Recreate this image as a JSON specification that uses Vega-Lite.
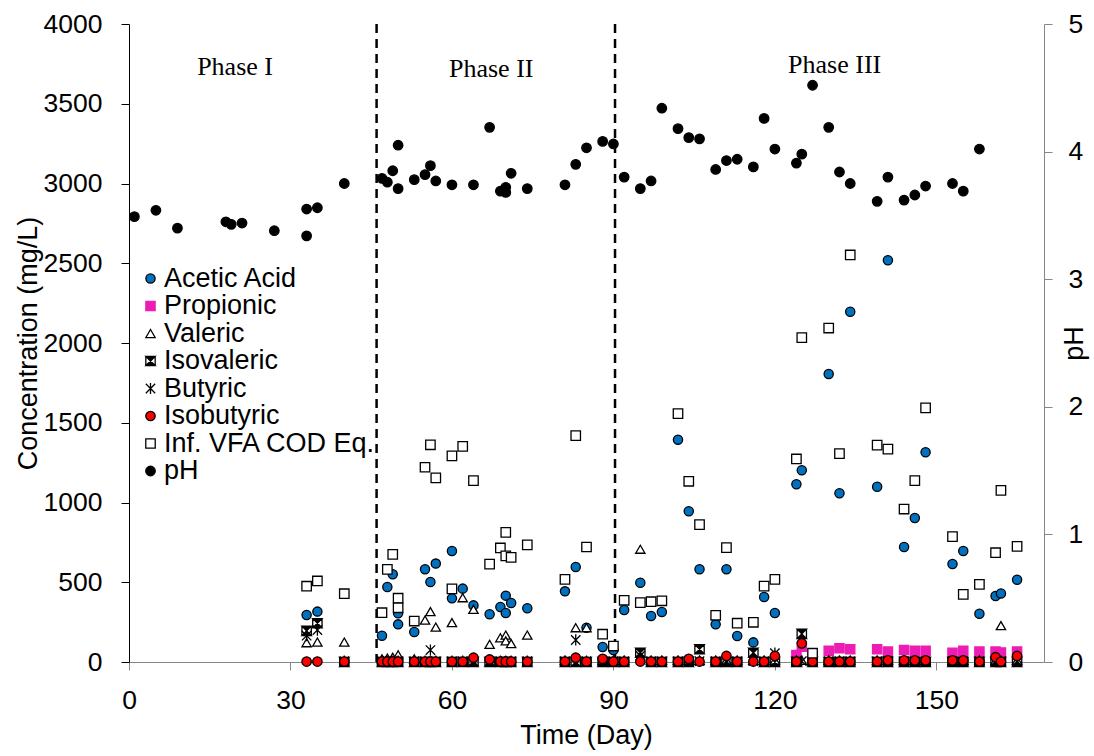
{
"$schema":"https://vega.github.io/schema/vega-lite/v6.json",
"width":915,"height":638,
"autosize":{"type":"none"},
"padding":{"left":129,"top":24,"right":50,"bottom":94},
"background":"white",
"config":{"view":{"stroke":null},"font":"Liberation Sans",
 "axis":{"grid":false,"labelFont":"Liberation Sans","titleFont":"Liberation Sans","labelFontSize":26.5,"titleFontSize":27,"titleFontWeight":"normal","labelColor":"#000","titleColor":"#000","tickSize":8,"labelFlush":false,"labelOverlap":false,"format":"d"},
 "legend":{"orient":"none","legendX":8,"legendY":241,"labelFontSize":27,"labelFont":"Liberation Sans","labelColor":"#000","rowPadding":-0.5,"labelOffset":0,"padding":0,"symbolStrokeWidth":1.3,"labelLimit":0}},
"datasets":{
"div":[{"day":46},{"day":90.3}],
"phase":[{"day":19.7,"value":3730,"label":"Phase I"},{"day":67.3,"value":3718,"label":"Phase II"},{"day":131.1,"value":3743,"label":"Phase III"}],
"ph":[
{"day":1,"series":"pH","value":3.49},{"day":5,"series":"pH","value":3.54},{"day":9,"series":"pH","value":3.40},{"day":18,"series":"pH","value":3.45},{"day":19,"series":"pH","value":3.43},{"day":21,"series":"pH","value":3.44},{"day":27,"series":"pH","value":3.38},{"day":33,"series":"pH","value":3.55},{"day":33,"series":"pH","value":3.34},{"day":35,"series":"pH","value":3.56},{"day":40,"series":"pH","value":3.75},
{"day":47,"series":"pH","value":3.79},{"day":48,"series":"pH","value":3.76},{"day":49,"series":"pH","value":3.85},{"day":50,"series":"pH","value":4.05},{"day":50,"series":"pH","value":3.71},{"day":53,"series":"pH","value":3.78},{"day":55,"series":"pH","value":3.82},{"day":56,"series":"pH","value":3.89},{"day":57,"series":"pH","value":3.77},{"day":60,"series":"pH","value":3.74},{"day":64,"series":"pH","value":3.74},{"day":67,"series":"pH","value":4.19},{"day":69,"series":"pH","value":3.69},{"day":70,"series":"pH","value":3.72},{"day":70,"series":"pH","value":3.68},{"day":71,"series":"pH","value":3.83},{"day":74,"series":"pH","value":3.71},{"day":81,"series":"pH","value":3.74},{"day":83,"series":"pH","value":3.90},{"day":85,"series":"pH","value":4.03},{"day":88,"series":"pH","value":4.08},{"day":90,"series":"pH","value":4.06},
{"day":92,"series":"pH","value":3.80},{"day":95,"series":"pH","value":3.71},{"day":97,"series":"pH","value":3.77},{"day":99,"series":"pH","value":4.34},{"day":102,"series":"pH","value":4.18},{"day":104,"series":"pH","value":4.11},{"day":106,"series":"pH","value":4.10},{"day":109,"series":"pH","value":3.86},{"day":111,"series":"pH","value":3.93},{"day":113,"series":"pH","value":3.94},{"day":116,"series":"pH","value":3.88},{"day":118,"series":"pH","value":4.26},{"day":120,"series":"pH","value":4.02},{"day":124,"series":"pH","value":3.91},{"day":125,"series":"pH","value":3.98},{"day":127,"series":"pH","value":4.52},{"day":130,"series":"pH","value":4.19},{"day":132,"series":"pH","value":3.84},{"day":134,"series":"pH","value":3.75},{"day":139,"series":"pH","value":3.61},{"day":141,"series":"pH","value":3.80},{"day":144,"series":"pH","value":3.62},{"day":146,"series":"pH","value":3.66},{"day":148,"series":"pH","value":3.73},{"day":153,"series":"pH","value":3.75},{"day":155,"series":"pH","value":3.69},{"day":158,"series":"pH","value":4.02}
],
"vfa":[
{"day":33,"series":"Acetic Acid","value":295},{"day":35,"series":"Acetic Acid","value":316},{"day":47,"series":"Acetic Acid","value":165},{"day":48,"series":"Acetic Acid","value":470},{"day":49,"series":"Acetic Acid","value":550},{"day":50,"series":"Acetic Acid","value":305},{"day":50,"series":"Acetic Acid","value":236},{"day":53,"series":"Acetic Acid","value":188},{"day":55,"series":"Acetic Acid","value":581},{"day":56,"series":"Acetic Acid","value":502},{"day":57,"series":"Acetic Acid","value":617},{"day":60,"series":"Acetic Acid","value":696},{"day":60,"series":"Acetic Acid","value":399},{"day":62,"series":"Acetic Acid","value":460},{"day":64,"series":"Acetic Acid","value":355},{"day":67,"series":"Acetic Acid","value":299},{"day":69,"series":"Acetic Acid","value":345},{"day":70,"series":"Acetic Acid","value":416},{"day":70,"series":"Acetic Acid","value":307},{"day":71,"series":"Acetic Acid","value":370},{"day":74,"series":"Acetic Acid","value":337},{"day":81,"series":"Acetic Acid","value":443},{"day":83,"series":"Acetic Acid","value":596},{"day":85,"series":"Acetic Acid","value":215},{"day":88,"series":"Acetic Acid","value":94},{"day":90,"series":"Acetic Acid","value":75},{"day":92,"series":"Acetic Acid","value":326},{"day":95,"series":"Acetic Acid","value":497},{"day":97,"series":"Acetic Acid","value":288},{"day":99,"series":"Acetic Acid","value":313},{"day":102,"series":"Acetic Acid","value":1394},{"day":104,"series":"Acetic Acid","value":945},{"day":106,"series":"Acetic Acid","value":581},{"day":109,"series":"Acetic Acid","value":236},{"day":111,"series":"Acetic Acid","value":581},{"day":113,"series":"Acetic Acid","value":163},{"day":116,"series":"Acetic Acid","value":123},{"day":118,"series":"Acetic Acid","value":408},{"day":120,"series":"Acetic Acid","value":307},{"day":124,"series":"Acetic Acid","value":1114},{"day":125,"series":"Acetic Acid","value":1202},{"day":130,"series":"Acetic Acid","value":1806},{"day":132,"series":"Acetic Acid","value":1058},{"day":134,"series":"Acetic Acid","value":2196},{"day":139,"series":"Acetic Acid","value":1099},{"day":141,"series":"Acetic Acid","value":2519},{"day":144,"series":"Acetic Acid","value":721},{"day":146,"series":"Acetic Acid","value":903},{"day":148,"series":"Acetic Acid","value":1315},{"day":153,"series":"Acetic Acid","value":614},{"day":155,"series":"Acetic Acid","value":696},{"day":158,"series":"Acetic Acid","value":303},{"day":161,"series":"Acetic Acid","value":414},{"day":162,"series":"Acetic Acid","value":430},{"day":165,"series":"Acetic Acid","value":516},
{"day":124,"series":"Propionic","value":44},{"day":125,"series":"Propionic","value":96},{"day":127,"series":"Propionic","value":30},{"day":130,"series":"Propionic","value":71},{"day":132,"series":"Propionic","value":86},{"day":134,"series":"Propionic","value":80},{"day":139,"series":"Propionic","value":80},{"day":141,"series":"Propionic","value":65},{"day":144,"series":"Propionic","value":75},{"day":146,"series":"Propionic","value":71},{"day":148,"series":"Propionic","value":71},{"day":153,"series":"Propionic","value":58},{"day":155,"series":"Propionic","value":71},{"day":158,"series":"Propionic","value":65},{"day":161,"series":"Propionic","value":65},{"day":162,"series":"Propionic","value":60},{"day":165,"series":"Propionic","value":65},
{"day":33,"series":"Valeric","value":121},{"day":35,"series":"Valeric","value":125},{"day":40,"series":"Valeric","value":125},{"day":47,"series":"Valeric","value":20},{"day":48,"series":"Valeric","value":25},{"day":49,"series":"Valeric","value":30},{"day":50,"series":"Valeric","value":45},{"day":53,"series":"Valeric","value":20},{"day":55,"series":"Valeric","value":263},{"day":56,"series":"Valeric","value":316},{"day":57,"series":"Valeric","value":219},{"day":60,"series":"Valeric","value":247},{"day":62,"series":"Valeric","value":403},{"day":64,"series":"Valeric","value":330},{"day":67,"series":"Valeric","value":111},{"day":69,"series":"Valeric","value":152},{"day":70,"series":"Valeric","value":169},{"day":70,"series":"Valeric","value":132},{"day":71,"series":"Valeric","value":115},{"day":74,"series":"Valeric","value":169},{"day":81,"series":"Valeric","value":10},{"day":83,"series":"Valeric","value":215},{"day":85,"series":"Valeric","value":215},{"day":88,"series":"Valeric","value":10},{"day":90,"series":"Valeric","value":10},{"day":92,"series":"Valeric","value":10},{"day":95,"series":"Valeric","value":707},{"day":97,"series":"Valeric","value":10},{"day":99,"series":"Valeric","value":10},{"day":102,"series":"Valeric","value":10},{"day":104,"series":"Valeric","value":10},{"day":106,"series":"Valeric","value":10},{"day":109,"series":"Valeric","value":10},{"day":111,"series":"Valeric","value":10},{"day":113,"series":"Valeric","value":10},{"day":116,"series":"Valeric","value":10},{"day":118,"series":"Valeric","value":10},{"day":120,"series":"Valeric","value":10},{"day":124,"series":"Valeric","value":10},{"day":125,"series":"Valeric","value":10},{"day":127,"series":"Valeric","value":10},{"day":130,"series":"Valeric","value":10},{"day":132,"series":"Valeric","value":10},{"day":134,"series":"Valeric","value":10},{"day":139,"series":"Valeric","value":10},{"day":141,"series":"Valeric","value":10},{"day":144,"series":"Valeric","value":10},{"day":146,"series":"Valeric","value":10},{"day":148,"series":"Valeric","value":10},{"day":153,"series":"Valeric","value":10},{"day":155,"series":"Valeric","value":10},{"day":158,"series":"Valeric","value":10},{"day":161,"series":"Valeric","value":10},{"day":162,"series":"Valeric","value":228},{"day":165,"series":"Valeric","value":10},
{"day":33,"series":"Isovaleric","value":195},{"day":35,"series":"Isovaleric","value":243},{"day":40,"series":"Isovaleric","value":0},{"day":47,"series":"Isovaleric","value":0},{"day":48,"series":"Isovaleric","value":0},{"day":49,"series":"Isovaleric","value":0},{"day":50,"series":"Isovaleric","value":0},{"day":53,"series":"Isovaleric","value":0},{"day":55,"series":"Isovaleric","value":0},{"day":56,"series":"Isovaleric","value":0},{"day":57,"series":"Isovaleric","value":0},{"day":60,"series":"Isovaleric","value":0},{"day":62,"series":"Isovaleric","value":0},{"day":64,"series":"Isovaleric","value":0},{"day":67,"series":"Isovaleric","value":0},{"day":69,"series":"Isovaleric","value":0},{"day":70,"series":"Isovaleric","value":0},{"day":71,"series":"Isovaleric","value":0},{"day":74,"series":"Isovaleric","value":0},{"day":81,"series":"Isovaleric","value":0},{"day":83,"series":"Isovaleric","value":0},{"day":85,"series":"Isovaleric","value":0},{"day":88,"series":"Isovaleric","value":0},{"day":90,"series":"Isovaleric","value":0},{"day":92,"series":"Isovaleric","value":0},{"day":95,"series":"Isovaleric","value":58},{"day":97,"series":"Isovaleric","value":0},{"day":99,"series":"Isovaleric","value":0},{"day":102,"series":"Isovaleric","value":0},{"day":104,"series":"Isovaleric","value":0},{"day":106,"series":"Isovaleric","value":80},{"day":109,"series":"Isovaleric","value":0},{"day":111,"series":"Isovaleric","value":0},{"day":113,"series":"Isovaleric","value":0},{"day":116,"series":"Isovaleric","value":58},{"day":118,"series":"Isovaleric","value":0},{"day":120,"series":"Isovaleric","value":0},{"day":124,"series":"Isovaleric","value":0},{"day":125,"series":"Isovaleric","value":176},{"day":127,"series":"Isovaleric","value":0},{"day":130,"series":"Isovaleric","value":0},{"day":132,"series":"Isovaleric","value":0},{"day":134,"series":"Isovaleric","value":0},{"day":139,"series":"Isovaleric","value":0},{"day":141,"series":"Isovaleric","value":0},{"day":144,"series":"Isovaleric","value":0},{"day":146,"series":"Isovaleric","value":0},{"day":148,"series":"Isovaleric","value":0},{"day":153,"series":"Isovaleric","value":0},{"day":155,"series":"Isovaleric","value":0},{"day":158,"series":"Isovaleric","value":0},{"day":161,"series":"Isovaleric","value":0},{"day":162,"series":"Isovaleric","value":0},{"day":165,"series":"Isovaleric","value":0},
{"day":33,"series":"Butyric","value":165},{"day":35,"series":"Butyric","value":200},{"day":40,"series":"Butyric","value":5},{"day":47,"series":"Butyric","value":5},{"day":48,"series":"Butyric","value":5},{"day":49,"series":"Butyric","value":5},{"day":50,"series":"Butyric","value":5},{"day":53,"series":"Butyric","value":5},{"day":55,"series":"Butyric","value":5},{"day":56,"series":"Butyric","value":75},{"day":57,"series":"Butyric","value":5},{"day":60,"series":"Butyric","value":5},{"day":62,"series":"Butyric","value":5},{"day":64,"series":"Butyric","value":5},{"day":67,"series":"Butyric","value":5},{"day":69,"series":"Butyric","value":5},{"day":70,"series":"Butyric","value":5},{"day":71,"series":"Butyric","value":5},{"day":74,"series":"Butyric","value":5},{"day":81,"series":"Butyric","value":5},{"day":83,"series":"Butyric","value":138},{"day":85,"series":"Butyric","value":5},{"day":88,"series":"Butyric","value":5},{"day":90,"series":"Butyric","value":5},{"day":92,"series":"Butyric","value":5},{"day":95,"series":"Butyric","value":40},{"day":97,"series":"Butyric","value":5},{"day":99,"series":"Butyric","value":5},{"day":102,"series":"Butyric","value":5},{"day":104,"series":"Butyric","value":5},{"day":106,"series":"Butyric","value":5},{"day":109,"series":"Butyric","value":5},{"day":111,"series":"Butyric","value":5},{"day":113,"series":"Butyric","value":5},{"day":116,"series":"Butyric","value":5},{"day":118,"series":"Butyric","value":5},{"day":120,"series":"Butyric","value":55},{"day":124,"series":"Butyric","value":5},{"day":125,"series":"Butyric","value":5},{"day":127,"series":"Butyric","value":5},{"day":130,"series":"Butyric","value":5},{"day":132,"series":"Butyric","value":5},{"day":134,"series":"Butyric","value":5},{"day":139,"series":"Butyric","value":5},{"day":141,"series":"Butyric","value":5},{"day":144,"series":"Butyric","value":5},{"day":146,"series":"Butyric","value":5},{"day":148,"series":"Butyric","value":5},{"day":153,"series":"Butyric","value":5},{"day":155,"series":"Butyric","value":5},{"day":158,"series":"Butyric","value":5},{"day":161,"series":"Butyric","value":5},{"day":162,"series":"Butyric","value":5},{"day":165,"series":"Butyric","value":5},
{"day":33,"series":"Isobutyric","value":3},{"day":35,"series":"Isobutyric","value":3},{"day":40,"series":"Isobutyric","value":3},{"day":47,"series":"Isobutyric","value":3},{"day":48,"series":"Isobutyric","value":3},{"day":49,"series":"Isobutyric","value":3},{"day":50,"series":"Isobutyric","value":3},{"day":53,"series":"Isobutyric","value":3},{"day":55,"series":"Isobutyric","value":3},{"day":56,"series":"Isobutyric","value":3},{"day":57,"series":"Isobutyric","value":3},{"day":60,"series":"Isobutyric","value":3},{"day":62,"series":"Isobutyric","value":3},{"day":64,"series":"Isobutyric","value":27},{"day":67,"series":"Isobutyric","value":16},{"day":69,"series":"Isobutyric","value":3},{"day":70,"series":"Isobutyric","value":3},{"day":71,"series":"Isobutyric","value":3},{"day":74,"series":"Isobutyric","value":3},{"day":81,"series":"Isobutyric","value":3},{"day":83,"series":"Isobutyric","value":27},{"day":85,"series":"Isobutyric","value":3},{"day":88,"series":"Isobutyric","value":20},{"day":90,"series":"Isobutyric","value":3},{"day":92,"series":"Isobutyric","value":3},{"day":95,"series":"Isobutyric","value":3},{"day":97,"series":"Isobutyric","value":3},{"day":99,"series":"Isobutyric","value":3},{"day":102,"series":"Isobutyric","value":3},{"day":104,"series":"Isobutyric","value":20},{"day":106,"series":"Isobutyric","value":3},{"day":109,"series":"Isobutyric","value":3},{"day":111,"series":"Isobutyric","value":38},{"day":113,"series":"Isobutyric","value":3},{"day":116,"series":"Isobutyric","value":3},{"day":118,"series":"Isobutyric","value":3},{"day":120,"series":"Isobutyric","value":38},{"day":124,"series":"Isobutyric","value":3},{"day":125,"series":"Isobutyric","value":117},{"day":127,"series":"Isobutyric","value":3},{"day":130,"series":"Isobutyric","value":3},{"day":132,"series":"Isobutyric","value":3},{"day":134,"series":"Isobutyric","value":3},{"day":139,"series":"Isobutyric","value":3},{"day":141,"series":"Isobutyric","value":10},{"day":144,"series":"Isobutyric","value":10},{"day":146,"series":"Isobutyric","value":10},{"day":148,"series":"Isobutyric","value":10},{"day":153,"series":"Isobutyric","value":10},{"day":155,"series":"Isobutyric","value":10},{"day":158,"series":"Isobutyric","value":3},{"day":161,"series":"Isobutyric","value":30},{"day":162,"series":"Isobutyric","value":3},{"day":165,"series":"Isobutyric","value":38},
{"day":33,"series":"Inf. VFA COD Eq.","value":475},{"day":35,"series":"Inf. VFA COD Eq.","value":508},{"day":40,"series":"Inf. VFA COD Eq.","value":428},{"day":47,"series":"Inf. VFA COD Eq.","value":309},{"day":48,"series":"Inf. VFA COD Eq.","value":581},{"day":49,"series":"Inf. VFA COD Eq.","value":675},{"day":50,"series":"Inf. VFA COD Eq.","value":400},{"day":50,"series":"Inf. VFA COD Eq.","value":340},{"day":53,"series":"Inf. VFA COD Eq.","value":257},{"day":55,"series":"Inf. VFA COD Eq.","value":1221},{"day":56,"series":"Inf. VFA COD Eq.","value":1362},{"day":57,"series":"Inf. VFA COD Eq.","value":1154},{"day":60,"series":"Inf. VFA COD Eq.","value":1292},{"day":60,"series":"Inf. VFA COD Eq.","value":458},{"day":62,"series":"Inf. VFA COD Eq.","value":1352},{"day":64,"series":"Inf. VFA COD Eq.","value":1137},{"day":67,"series":"Inf. VFA COD Eq.","value":614},{"day":69,"series":"Inf. VFA COD Eq.","value":715},{"day":70,"series":"Inf. VFA COD Eq.","value":813},{"day":70,"series":"Inf. VFA COD Eq.","value":665},{"day":71,"series":"Inf. VFA COD Eq.","value":656},{"day":74,"series":"Inf. VFA COD Eq.","value":734},{"day":81,"series":"Inf. VFA COD Eq.","value":518},{"day":83,"series":"Inf. VFA COD Eq.","value":1419},{"day":85,"series":"Inf. VFA COD Eq.","value":721},{"day":88,"series":"Inf. VFA COD Eq.","value":174},{"day":90,"series":"Inf. VFA COD Eq.","value":100},{"day":92,"series":"Inf. VFA COD Eq.","value":387},{"day":95,"series":"Inf. VFA COD Eq.","value":372},{"day":97,"series":"Inf. VFA COD Eq.","value":378},{"day":99,"series":"Inf. VFA COD Eq.","value":384},{"day":102,"series":"Inf. VFA COD Eq.","value":1557},{"day":104,"series":"Inf. VFA COD Eq.","value":1133},{"day":106,"series":"Inf. VFA COD Eq.","value":861},{"day":109,"series":"Inf. VFA COD Eq.","value":293},{"day":111,"series":"Inf. VFA COD Eq.","value":717},{"day":113,"series":"Inf. VFA COD Eq.","value":243},{"day":116,"series":"Inf. VFA COD Eq.","value":249},{"day":118,"series":"Inf. VFA COD Eq.","value":476},{"day":120,"series":"Inf. VFA COD Eq.","value":518},{"day":124,"series":"Inf. VFA COD Eq.","value":1273},{"day":125,"series":"Inf. VFA COD Eq.","value":2034},{"day":127,"series":"Inf. VFA COD Eq.","value":55},{"day":130,"series":"Inf. VFA COD Eq.","value":2094},{"day":132,"series":"Inf. VFA COD Eq.","value":1306},{"day":134,"series":"Inf. VFA COD Eq.","value":2552},{"day":139,"series":"Inf. VFA COD Eq.","value":1360},{"day":141,"series":"Inf. VFA COD Eq.","value":1335},{"day":144,"series":"Inf. VFA COD Eq.","value":959},{"day":146,"series":"Inf. VFA COD Eq.","value":1137},{"day":148,"series":"Inf. VFA COD Eq.","value":1593},{"day":153,"series":"Inf. VFA COD Eq.","value":786},{"day":155,"series":"Inf. VFA COD Eq.","value":424},{"day":158,"series":"Inf. VFA COD Eq.","value":487},{"day":161,"series":"Inf. VFA COD Eq.","value":685},{"day":162,"series":"Inf. VFA COD Eq.","value":1076},{"day":165,"series":"Inf. VFA COD Eq.","value":725}
]},
"layer":[
 {"layer":[
  {"data":{"name":"div"},
   "mark":{"type":"rule","strokeDash":[9,6],"strokeWidth":2.5,"color":"#000"},
   "encoding":{"x":{"field":"day","type":"quantitative","scale":{"domain":[0,170],"nice":false,"zero":true},
     "axis":{"values":[0,30,60,90,120,150],"title":"Time (Day)","domainColor":"#868686","tickColor":"#868686","labelPadding":17,"titleX":457,"titleY":73,"titleBaseline":"middle"}}}},
  {"data":{"name":"phase"},
   "mark":{"type":"text","font":"Liberation Serif","fontSize":26,"color":"#000"},
   "encoding":{"x":{"field":"day","type":"quantitative","scale":{"domain":[0,170],"nice":false,"zero":true},
     "axis":{"values":[0,30,60,90,120,150],"title":"Time (Day)","domainColor":"#868686","tickColor":"#868686","labelPadding":17,"titleX":457,"titleY":73,"titleBaseline":"middle"}},
    "y":{"field":"value","type":"quantitative","scale":{"domain":[0,4000],"nice":false},
     "axis":{"values":[0,500,1000,1500,2000,2500,3000,3500,4000],"title":"Concentration (mg/L)","domainColor":"#000","tickColor":"#000","labelPadding":19,"titleAngle":270,"titleX":-101,"titleY":319,"titleBaseline":"middle","titleAlign":"center"}},
    "text":{"field":"label"}}},
  {"data":{"name":"vfa"},
   "mark":{"type":"point","opacity":1,"strokeWidth":1.3},
   "encoding":{"x":{"field":"day","type":"quantitative","scale":{"domain":[0,170],"nice":false,"zero":true},
     "axis":{"values":[0,30,60,90,120,150],"title":"Time (Day)","domainColor":"#868686","tickColor":"#868686","labelPadding":17,"titleX":457,"titleY":73,"titleBaseline":"middle"}},
    "y":{"field":"value","type":"quantitative","scale":{"domain":[0,4000],"nice":false},
     "axis":{"values":[0,500,1000,1500,2000,2500,3000,3500,4000],"title":"Concentration (mg/L)","domainColor":"#000","tickColor":"#000","labelPadding":19,"titleAngle":270,"titleX":-101,"titleY":319,"titleBaseline":"middle","titleAlign":"center"}},
    "shape":{"field":"series","type":"nominal","title":null,"scale":{"domain":["Acetic Acid","Propionic","Valeric","Isovaleric","Butyric","Isobutyric","Inf. VFA COD Eq.","pH"],"range":["circle","square","triangle-up","M-1,-1L1,-1L-1,1L1,1Z M-1,-1L-1,1 M1,-1L1,1","M-1,-1L1,1 M1,-1L-1,1 M0,-1.2L0,1.2","circle","square","circle"]}},
    "fill":{"field":"series","type":"nominal","title":null,"scale":{"domain":["Acetic Acid","Propionic","Valeric","Isovaleric","Butyric","Isobutyric","Inf. VFA COD Eq.","pH"],"range":["#0070C0","#EC1CB4","#ffffff","#000000","transparent","#FF0000","#ffffff","#000000"]}},
    "stroke":{"field":"series","type":"nominal","title":null,"scale":{"domain":["Acetic Acid","Propionic","Valeric","Isovaleric","Butyric","Isobutyric","Inf. VFA COD Eq.","pH"],"range":["#000000","#EC1CB4","#000000","#000000","#000000","#000000","#000000","#000000"]}},
    "size":{"field":"series","type":"nominal","title":null,"scale":{"domain":["Acetic Acid","Propionic","Valeric","Isovaleric","Butyric","Isobutyric","Inf. VFA COD Eq.","pH"],"range":[85,90,110,110,130,150,85,100]}}
   }}
 ]},
 {"data":{"name":"ph"},
  "mark":{"type":"point","opacity":1,"strokeWidth":1.3},
  "encoding":{"x":{"field":"day","type":"quantitative","scale":{"domain":[0,170],"nice":false,"zero":true},
     "axis":{"values":[0,30,60,90,120,150],"title":"Time (Day)","domainColor":"#868686","tickColor":"#868686","labelPadding":17,"titleX":457,"titleY":73,"titleBaseline":"middle"}},
   "y":{"field":"value","type":"quantitative","scale":{"domain":[0,5],"nice":false},
     "axis":{"orient":"right","values":[0,1,2,3,4,5],"title":"pH","domainColor":"#868686","tickColor":"#868686","labelPadding":16,"titleAngle":270,"titleX":30,"titleY":319,"titleBaseline":"middle","titleAlign":"center"}},
   "shape":{"field":"series","type":"nominal","title":null,"scale":{"domain":["Acetic Acid","Propionic","Valeric","Isovaleric","Butyric","Isobutyric","Inf. VFA COD Eq.","pH"],"range":["circle","square","triangle-up","M-1,-1L1,-1L-1,1L1,1Z M-1,-1L-1,1 M1,-1L1,1","M-1,-1L1,1 M1,-1L-1,1 M0,-1.2L0,1.2","circle","square","circle"]}},
   "fill":{"field":"series","type":"nominal","title":null,"scale":{"domain":["Acetic Acid","Propionic","Valeric","Isovaleric","Butyric","Isobutyric","Inf. VFA COD Eq.","pH"],"range":["#0070C0","#EC1CB4","#ffffff","#000000","transparent","#FF0000","#ffffff","#000000"]}},
   "stroke":{"field":"series","type":"nominal","title":null,"scale":{"domain":["Acetic Acid","Propionic","Valeric","Isovaleric","Butyric","Isobutyric","Inf. VFA COD Eq.","pH"],"range":["#000000","#EC1CB4","#000000","#000000","#000000","#000000","#000000","#000000"]}},
   "size":{"field":"series","type":"nominal","title":null,"scale":{"domain":["Acetic Acid","Propionic","Valeric","Isovaleric","Butyric","Isobutyric","Inf. VFA COD Eq.","pH"],"range":[85,90,110,110,130,150,85,100]}}
  }}
],
"resolve":{"scale":{"y":"independent"}}
}
